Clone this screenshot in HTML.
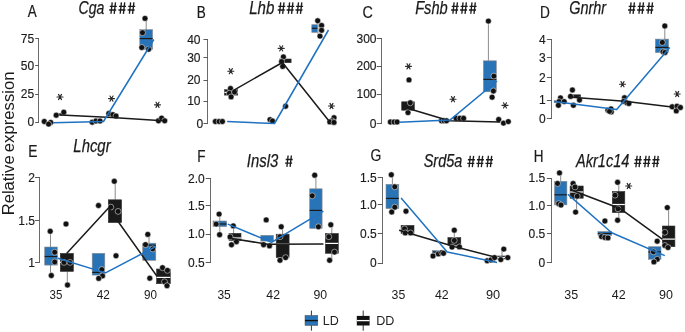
<!DOCTYPE html>
<html><head><meta charset="utf-8"><style>
html,body{margin:0;padding:0;background:#fff;}
svg{display:block;will-change:transform;}
text{font-family:"Liberation Sans",sans-serif;}
</style></head><body>
<svg width="685" height="332" viewBox="0 0 685 332">
<rect width="685" height="332" fill="#fff"/>
<g font-family="Liberation Sans, sans-serif">
<text transform="translate(13.8,215.27) rotate(-90)" font-size="16.5" textLength="59.88" lengthAdjust="spacingAndGlyphs" fill="#1a1a1a">Relative</text>
<text transform="translate(13.8,152.21) rotate(-90)" font-size="16.5" textLength="80.81" lengthAdjust="spacingAndGlyphs" fill="#1a1a1a">expression</text>
<text x="27.77" y="17.2" font-size="15.9" text-anchor="start" stroke="#1a1a1a" stroke-width="0.2" textLength="8.96" lengthAdjust="spacingAndGlyphs" fill="#1a1a1a" >A</text>
<text x="196.78" y="17.5" font-size="15.9" text-anchor="start" stroke="#1a1a1a" stroke-width="0.2" textLength="9.02" lengthAdjust="spacingAndGlyphs" fill="#1a1a1a" >B</text>
<text x="362.38" y="17.5" font-size="15.9" text-anchor="start" stroke="#1a1a1a" stroke-width="0.2" textLength="10.39" lengthAdjust="spacingAndGlyphs" fill="#1a1a1a" >C</text>
<text x="539.97" y="17.5" font-size="15.9" text-anchor="start" stroke="#1a1a1a" stroke-width="0.2" textLength="9.87" lengthAdjust="spacingAndGlyphs" fill="#1a1a1a" >D</text>
<text x="28.26" y="157.10000000000002" font-size="15.9" text-anchor="start" stroke="#1a1a1a" stroke-width="0.2" textLength="9.22" lengthAdjust="spacingAndGlyphs" fill="#1a1a1a" >E</text>
<text x="197.18" y="161.70000000000002" font-size="15.9" text-anchor="start" stroke="#1a1a1a" stroke-width="0.2" textLength="8.27" lengthAdjust="spacingAndGlyphs" fill="#1a1a1a" >F</text>
<text x="370.4" y="161.4" font-size="15.9" text-anchor="start" stroke="#1a1a1a" stroke-width="0.2" textLength="10.85" lengthAdjust="spacingAndGlyphs" fill="#1a1a1a" >G</text>
<text x="533.79" y="161.70000000000002" font-size="15.9" text-anchor="start" stroke="#1a1a1a" stroke-width="0.2" textLength="9.72" lengthAdjust="spacingAndGlyphs" fill="#1a1a1a" >H</text>
<text x="78.52" y="13.8" font-size="18.7" text-anchor="start" font-style="italic" stroke="#1a1a1a" stroke-width="0.25" textLength="25.86" lengthAdjust="spacingAndGlyphs" fill="#1a1a1a" >Cga</text>
<path d="M112.20,2.40L111.00,13.80M115.50,2.40L114.20,13.80M109.80,6.39H116.80M109.20,10.04H116.20M121.40,2.40L120.20,13.80M124.70,2.40L123.40,13.80M119.00,6.39H126.00M118.40,10.04H125.40M130.60,2.40L129.40,13.80M133.90,2.40L132.60,13.80M128.20,6.39H135.20M127.60,10.04H134.60" stroke="#1c1c1c" stroke-width="1.35" fill="none"/>
<text x="249.25" y="13.8" font-size="18.7" text-anchor="start" font-style="italic" stroke="#1a1a1a" stroke-width="0.25" textLength="25.12" lengthAdjust="spacingAndGlyphs" fill="#1a1a1a" >Lhb</text>
<path d="M280.70,2.40L279.50,13.80M284.00,2.40L282.70,13.80M278.30,6.39H285.30M277.70,10.04H284.70M289.60,2.40L288.40,13.80M292.90,2.40L291.60,13.80M287.20,6.39H294.20M286.60,10.04H293.60M298.50,2.40L297.30,13.80M301.80,2.40L300.50,13.80M296.10,6.39H303.10M295.50,10.04H302.50" stroke="#1c1c1c" stroke-width="1.35" fill="none"/>
<text x="415.16" y="13.8" font-size="18.7" text-anchor="start" font-style="italic" stroke="#1a1a1a" stroke-width="0.25" textLength="32.59" lengthAdjust="spacingAndGlyphs" fill="#1a1a1a" >Fshb</text>
<path d="M454.10,2.40L452.90,13.80M457.40,2.40L456.10,13.80M451.70,6.39H458.70M451.10,10.04H458.10M463.05,2.40L461.85,13.80M466.35,2.40L465.05,13.80M460.65,6.39H467.65M460.05,10.04H467.05M472.00,2.40L470.80,13.80M475.30,2.40L474.00,13.80M469.60,6.39H476.60M469.00,10.04H476.00" stroke="#1c1c1c" stroke-width="1.35" fill="none"/>
<text x="569.18" y="13.8" font-size="18.7" text-anchor="start" font-style="italic" stroke="#1a1a1a" stroke-width="0.25" textLength="36.93" lengthAdjust="spacingAndGlyphs" fill="#1a1a1a" >Gnrhr</text>
<path d="M631.10,2.40L629.90,13.80M634.40,2.40L633.10,13.80M628.70,6.39H635.70M628.10,10.04H635.10M640.15,2.40L638.95,13.80M643.45,2.40L642.15,13.80M637.75,6.39H644.75M637.15,10.04H644.15M649.20,2.40L648.00,13.80M652.50,2.40L651.20,13.80M646.80,6.39H653.80M646.20,10.04H653.20" stroke="#1c1c1c" stroke-width="1.35" fill="none"/>
<text x="73.35" y="151.6" font-size="18.7" text-anchor="start" font-style="italic" stroke="#1a1a1a" stroke-width="0.25" textLength="37.25" lengthAdjust="spacingAndGlyphs" fill="#1a1a1a" >Lhcgr</text>
<text x="246.8" y="166.9" font-size="18.7" text-anchor="start" font-style="italic" stroke="#1a1a1a" stroke-width="0.25" textLength="31.44" lengthAdjust="spacingAndGlyphs" fill="#1a1a1a" >Insl3</text>
<path d="M288.10,155.50L286.90,166.90M291.40,155.50L290.10,166.90M285.70,159.49H292.70M285.10,163.14H292.10" stroke="#1c1c1c" stroke-width="1.35" fill="none"/>
<text x="423.7" y="167.2" font-size="18.7" text-anchor="start" font-style="italic" stroke="#1a1a1a" stroke-width="0.25" textLength="38.58" lengthAdjust="spacingAndGlyphs" fill="#1a1a1a" >Srd5a</text>
<path d="M470.30,155.80L469.10,167.20M473.60,155.80L472.30,167.20M467.90,159.79H474.90M467.30,163.44H474.30M479.35,155.80L478.15,167.20M482.65,155.80L481.35,167.20M476.95,159.79H483.95M476.35,163.44H483.35M488.40,155.80L487.20,167.20M491.70,155.80L490.40,167.20M486.00,159.79H493.00M485.40,163.44H492.40" stroke="#1c1c1c" stroke-width="1.35" fill="none"/>
<text x="575.99" y="167.2" font-size="18.7" text-anchor="start" font-style="italic" stroke="#1a1a1a" stroke-width="0.25" textLength="53.47" lengthAdjust="spacingAndGlyphs" fill="#1a1a1a" >Akr1c14</text>
<path d="M637.10,155.80L635.90,167.20M640.40,155.80L639.10,167.20M634.70,159.79H641.70M634.10,163.44H641.10M646.00,155.80L644.80,167.20M649.30,155.80L648.00,167.20M643.60,159.79H650.60M643.00,163.44H650.00M654.90,155.80L653.70,167.20M658.20,155.80L656.90,167.20M652.50,159.79H659.50M651.90,163.44H658.90" stroke="#1c1c1c" stroke-width="1.35" fill="none"/>
<text x="49.5" y="299.2" font-size="13.5" text-anchor="start" textLength="12.8" lengthAdjust="spacingAndGlyphs" fill="#1a1a1a" >35</text>
<text x="96.7" y="299.2" font-size="13.5" text-anchor="start" textLength="13.1" lengthAdjust="spacingAndGlyphs" fill="#1a1a1a" >42</text>
<text x="144" y="299.2" font-size="13.5" text-anchor="start" textLength="13" lengthAdjust="spacingAndGlyphs" fill="#1a1a1a" >90</text>
<text x="217.4" y="299.2" font-size="13.5" text-anchor="start" textLength="13.4" lengthAdjust="spacingAndGlyphs" fill="#1a1a1a" >35</text>
<text x="266.3" y="299.2" font-size="13.5" text-anchor="start" textLength="13.7" lengthAdjust="spacingAndGlyphs" fill="#1a1a1a" >42</text>
<text x="313.4" y="299.2" font-size="13.5" text-anchor="start" textLength="13.7" lengthAdjust="spacingAndGlyphs" fill="#1a1a1a" >90</text>
<text x="391.6" y="299.2" font-size="13.5" text-anchor="start" textLength="13.7" lengthAdjust="spacingAndGlyphs" fill="#1a1a1a" >35</text>
<text x="435" y="299.2" font-size="13.5" text-anchor="start" textLength="13.7" lengthAdjust="spacingAndGlyphs" fill="#1a1a1a" >42</text>
<text x="485.9" y="299.2" font-size="13.5" text-anchor="start" textLength="14.2" lengthAdjust="spacingAndGlyphs" fill="#1a1a1a" >90</text>
<text x="564.3" y="299.2" font-size="13.5" text-anchor="start" textLength="13.9" lengthAdjust="spacingAndGlyphs" fill="#1a1a1a" >35</text>
<text x="611.7" y="299.2" font-size="13.5" text-anchor="start" textLength="13.9" lengthAdjust="spacingAndGlyphs" fill="#1a1a1a" >42</text>
<text x="659" y="299.2" font-size="13.5" text-anchor="start" textLength="13.9" lengthAdjust="spacingAndGlyphs" fill="#1a1a1a" >90</text>
<line x1="311.4" y1="310.6" x2="311.4" y2="330.7" stroke="#333" stroke-width="1"/>
<rect x="305" y="315.4" width="12.8" height="10.1" fill="#2974b7" stroke="#555" stroke-width="0.5"/>
<line x1="305" y1="320.6" x2="317.8" y2="320.6" stroke="#111" stroke-width="1.4"/>
<text x="322.86" y="325.3" font-size="13.5" text-anchor="start" textLength="16.04" lengthAdjust="spacingAndGlyphs" fill="#222" >LD</text>
<line x1="363.2" y1="310.6" x2="363.2" y2="330.7" stroke="#333" stroke-width="1"/>
<rect x="356.8" y="315.9" width="12.8" height="9.6" fill="#111"/>
<line x1="356.8" y1="320.6" x2="369.6" y2="320.6" stroke="#fff" stroke-width="1.3"/>
<text x="376.16" y="325.3" font-size="13.5" text-anchor="start" textLength="18.12" lengthAdjust="spacingAndGlyphs" fill="#222" >DD</text>
<path d="M38.5,38.0V123.0" stroke="#6a6a6a" stroke-width="1" fill="none"/>
<line x1="35.2" y1="38.5" x2="39.0" y2="38.5" stroke="#5a5a5a" stroke-width="1"/>
<text x="34.199999999999996" y="42.6" font-size="12" text-anchor="end" stroke="#1a1a1a" stroke-width="0.15" fill="#1a1a1a" >75</text>
<line x1="35.2" y1="65.5" x2="39.0" y2="65.5" stroke="#5a5a5a" stroke-width="1"/>
<text x="34.199999999999996" y="69.7" font-size="12" text-anchor="end" stroke="#1a1a1a" stroke-width="0.15" fill="#1a1a1a" >50</text>
<line x1="35.2" y1="94.5" x2="39.0" y2="94.5" stroke="#5a5a5a" stroke-width="1"/>
<text x="34.199999999999996" y="98.4" font-size="12" text-anchor="end" stroke="#1a1a1a" stroke-width="0.15" fill="#1a1a1a" >25</text>
<line x1="35.2" y1="122.5" x2="39.0" y2="122.5" stroke="#5a5a5a" stroke-width="1"/>
<text x="34.199999999999996" y="126.3" font-size="12" text-anchor="end" stroke="#1a1a1a" stroke-width="0.15" fill="#1a1a1a" >0</text>
<line x1="146.2" y1="18.4" x2="146.2" y2="30" stroke="#8c8c8c" stroke-width="1"/>
<rect x="139.8" y="29.6" width="12.799999999999983" height="19.799999999999997" fill="#2974b7" stroke="#8a8a8a" stroke-width="0.6"/>
<line x1="139.8" y1="38.6" x2="152.6" y2="38.6" stroke="#1a1a1a" stroke-width="1.2"/>
<circle cx="44.3" cy="121.5" r="2.95" fill="#111" stroke="#fff" stroke-width="0.5"/>
<circle cx="50.7" cy="122.4" r="2.95" fill="#111" stroke="#fff" stroke-width="0.5"/>
<circle cx="48.6" cy="124.1" r="2.95" fill="#111" stroke="#fff" stroke-width="0.5"/>
<rect x="58.3" y="113.6" width="3.5" height="2.0" fill="#1a1a1a" stroke="#333" stroke-width="0.6"/>
<circle cx="56.2" cy="115.2" r="2.95" fill="#111" stroke="#fff" stroke-width="0.5"/>
<circle cx="63.8" cy="112.2" r="2.95" fill="#111" stroke="#fff" stroke-width="0.5"/>
<circle cx="92.2" cy="122.2" r="2.95" fill="#111" stroke="#fff" stroke-width="0.5"/>
<circle cx="95.9" cy="121" r="2.95" fill="#111" stroke="#fff" stroke-width="0.5"/>
<circle cx="100" cy="121" r="2.95" fill="#111" stroke="#fff" stroke-width="0.5"/>
<circle cx="108.8" cy="113.5" r="2.95" fill="#111" stroke="#fff" stroke-width="0.5"/>
<circle cx="112.9" cy="114.6" r="2.95" fill="#111" stroke="#fff" stroke-width="0.5"/>
<circle cx="116" cy="116" r="2.95" fill="#111" stroke="#fff" stroke-width="0.5"/>
<circle cx="145" cy="18.4" r="2.95" fill="#111" stroke="#fff" stroke-width="0.5"/>
<circle cx="142.5" cy="32.7" r="2.95" fill="#111" stroke="#fff" stroke-width="0.5"/>
<circle cx="141.8" cy="47.5" r="2.95" fill="#111" stroke="#fff" stroke-width="0.5"/>
<circle cx="148.6" cy="49.2" r="2.95" fill="#111" stroke="#fff" stroke-width="0.5"/>
<circle cx="158.5" cy="120.8" r="2.95" fill="#111" stroke="#fff" stroke-width="0.5"/>
<circle cx="161.6" cy="118.1" r="2.95" fill="#111" stroke="#fff" stroke-width="0.5"/>
<circle cx="164.7" cy="120.8" r="2.95" fill="#111" stroke="#fff" stroke-width="0.5"/>
<path d="M57.00,97.00L63.00,97.00M58.50,94.40L61.50,99.60M61.50,94.40L58.50,99.60" stroke="#2a2a2a" stroke-width="1.15" stroke-linecap="round" fill="none"/>
<path d="M108.50,98.60L114.50,98.60M110.00,96.00L113.00,101.20M113.00,96.00L110.00,101.20" stroke="#2a2a2a" stroke-width="1.15" stroke-linecap="round" fill="none"/>
<path d="M154.50,104.80L160.50,104.80M156.00,102.20L159.00,107.40M159.00,102.20L156.00,107.40" stroke="#2a2a2a" stroke-width="1.15" stroke-linecap="round" fill="none"/>
<path d="M207.5,39.0V124.0" stroke="#6a6a6a" stroke-width="1" fill="none"/>
<line x1="203.5" y1="39.5" x2="208.0" y2="39.5" stroke="#5a5a5a" stroke-width="1"/>
<text x="200.5" y="43.5" font-size="12" text-anchor="end" stroke="#1a1a1a" stroke-width="0.15" fill="#1a1a1a" >40</text>
<line x1="203.5" y1="57.5" x2="208.0" y2="57.5" stroke="#5a5a5a" stroke-width="1"/>
<text x="200.5" y="61.7" font-size="12" text-anchor="end" stroke="#1a1a1a" stroke-width="0.15" fill="#1a1a1a" >30</text>
<line x1="203.5" y1="80.5" x2="208.0" y2="80.5" stroke="#5a5a5a" stroke-width="1"/>
<text x="200.5" y="84.2" font-size="12" text-anchor="end" stroke="#1a1a1a" stroke-width="0.15" fill="#1a1a1a" >20</text>
<line x1="203.5" y1="101.5" x2="208.0" y2="101.5" stroke="#5a5a5a" stroke-width="1"/>
<text x="200.5" y="105.2" font-size="12" text-anchor="end" stroke="#1a1a1a" stroke-width="0.15" fill="#1a1a1a" >10</text>
<line x1="203.5" y1="123.5" x2="208.0" y2="123.5" stroke="#5a5a5a" stroke-width="1"/>
<text x="203.3" y="128.1" font-size="12" text-anchor="end" stroke="#1a1a1a" stroke-width="0.15" fill="#1a1a1a" >0</text>
<rect x="224.5" y="89.7" width="13.199999999999989" height="5.3999999999999915" fill="#1a1a1a" stroke="#333" stroke-width="0.6"/>
<line x1="224.5" y1="92.4" x2="237.7" y2="92.4" stroke="#ffffff" stroke-width="1.2"/>
<rect x="279.5" y="59" width="11.600000000000023" height="3.700000000000003" fill="#1a1a1a" stroke="#333" stroke-width="0.6"/>
<rect x="311.8" y="24.7" width="5.800000000000011" height="7.699999999999999" fill="#2974b7" stroke="#8a8a8a" stroke-width="0.6"/>
<line x1="311.8" y1="28.3" x2="317.6" y2="28.3" stroke="#1a1a1a" stroke-width="1.2"/>
<circle cx="215.4" cy="121.5" r="2.95" fill="#111" stroke="#fff" stroke-width="0.5"/>
<circle cx="219.1" cy="121.5" r="2.95" fill="#111" stroke="#fff" stroke-width="0.5"/>
<circle cx="222.4" cy="121.5" r="2.95" fill="#111" stroke="#fff" stroke-width="0.5"/>
<circle cx="230.5" cy="88.5" r="2.95" fill="#111" stroke="#fff" stroke-width="0.5"/>
<circle cx="229.3" cy="93.3" r="2.95" fill="#111" stroke="#fff" stroke-width="0.5"/>
<circle cx="231.1" cy="96.9" r="2.95" fill="#111" stroke="#fff" stroke-width="0.5"/>
<circle cx="234.5" cy="92" r="2.95" fill="#111" stroke="#fff" stroke-width="0.5"/>
<circle cx="270" cy="119.6" r="2.95" fill="#111" stroke="#fff" stroke-width="0.5"/>
<circle cx="272.5" cy="121" r="2.95" fill="#111" stroke="#fff" stroke-width="0.5"/>
<circle cx="285.6" cy="106.2" r="2.95" fill="#111" stroke="#fff" stroke-width="0.5"/>
<circle cx="283.4" cy="56.9" r="2.95" fill="#111" stroke="#fff" stroke-width="0.5"/>
<circle cx="281.6" cy="61.6" r="2.95" fill="#111" stroke="#fff" stroke-width="0.5"/>
<circle cx="282.7" cy="66.4" r="2.95" fill="#111" stroke="#fff" stroke-width="0.5"/>
<line x1="318" y1="21" x2="318" y2="37" stroke="#8c8c8c" stroke-width="1"/>
<circle cx="317.7" cy="20.8" r="2.95" fill="#111" stroke="#fff" stroke-width="0.5"/>
<circle cx="321.6" cy="25.5" r="2.95" fill="#111" stroke="#fff" stroke-width="0.5"/>
<circle cx="321.6" cy="30.3" r="2.95" fill="#111" stroke="#fff" stroke-width="0.5"/>
<circle cx="320" cy="36.1" r="2.95" fill="#111" stroke="#fff" stroke-width="0.5"/>
<circle cx="334" cy="117.7" r="2.95" fill="#111" stroke="#fff" stroke-width="0.5"/>
<circle cx="332" cy="120.8" r="2.95" fill="#111" stroke="#fff" stroke-width="0.5"/>
<circle cx="329.8" cy="121.9" r="2.95" fill="#111" stroke="#fff" stroke-width="0.5"/>
<circle cx="334" cy="122.4" r="2.95" fill="#111" stroke="#fff" stroke-width="0.5"/>
<path d="M227.80,71.20L233.80,71.20M229.30,68.60L232.30,73.80M232.30,68.60L229.30,73.80" stroke="#2a2a2a" stroke-width="1.15" stroke-linecap="round" fill="none"/>
<path d="M278.20,48.40L284.20,48.40M279.70,45.80L282.70,51.00M282.70,45.80L279.70,51.00" stroke="#2a2a2a" stroke-width="1.15" stroke-linecap="round" fill="none"/>
<path d="M328.50,106.00L334.50,106.00M330.00,103.40L333.00,108.60M333.00,103.40L330.00,108.60" stroke="#2a2a2a" stroke-width="1.15" stroke-linecap="round" fill="none"/>
<path d="M381.5,38.0V124.0" stroke="#6a6a6a" stroke-width="1" fill="none"/>
<line x1="376.7" y1="38.5" x2="382.0" y2="38.5" stroke="#5a5a5a" stroke-width="1"/>
<text x="376.5" y="42.900000000000006" font-size="12" text-anchor="end" stroke="#1a1a1a" stroke-width="0.15" fill="#1a1a1a" >300</text>
<line x1="376.7" y1="66.5" x2="382.0" y2="66.5" stroke="#5a5a5a" stroke-width="1"/>
<text x="376.5" y="70.2" font-size="12" text-anchor="end" stroke="#1a1a1a" stroke-width="0.15" fill="#1a1a1a" >200</text>
<line x1="376.7" y1="94.5" x2="382.0" y2="94.5" stroke="#5a5a5a" stroke-width="1"/>
<text x="376.5" y="98.4" font-size="12" text-anchor="end" stroke="#1a1a1a" stroke-width="0.15" fill="#1a1a1a" >100</text>
<line x1="376.7" y1="123.5" x2="382.0" y2="123.5" stroke="#5a5a5a" stroke-width="1"/>
<text x="376.5" y="127.5" font-size="12" text-anchor="end" stroke="#1a1a1a" stroke-width="0.15" fill="#1a1a1a" >0</text>
<rect x="401.7" y="101.8" width="12.699999999999989" height="8.400000000000006" fill="#1a1a1a" stroke="#333" stroke-width="0.6"/>
<line x1="488.4" y1="21.1" x2="488.4" y2="60.8" stroke="#8c8c8c" stroke-width="1"/>
<rect x="483.4" y="60.8" width="12.900000000000034" height="31.0" fill="#2974b7" stroke="#8a8a8a" stroke-width="0.6"/>
<line x1="483.4" y1="79.4" x2="496.3" y2="79.4" stroke="#1a1a1a" stroke-width="1.2"/>
<circle cx="390.4" cy="122" r="2.95" fill="#111" stroke="#fff" stroke-width="0.5"/>
<circle cx="394.1" cy="122" r="2.95" fill="#111" stroke="#fff" stroke-width="0.5"/>
<circle cx="397.1" cy="122" r="2.95" fill="#111" stroke="#fff" stroke-width="0.5"/>
<circle cx="409" cy="79.9" r="2.95" fill="#111" stroke="#fff" stroke-width="0.5"/>
<circle cx="410.3" cy="102.8" r="2.95" fill="#111" stroke="#fff" stroke-width="0.5"/>
<circle cx="408" cy="112.6" r="2.95" fill="#111" stroke="#fff" stroke-width="0.5"/>
<circle cx="441.5" cy="120.8" r="2.95" fill="#111" stroke="#fff" stroke-width="0.5"/>
<circle cx="444" cy="120.8" r="2.95" fill="#111" stroke="#fff" stroke-width="0.5"/>
<circle cx="446.5" cy="120.8" r="2.95" fill="#111" stroke="#fff" stroke-width="0.5"/>
<circle cx="456.1" cy="118.3" r="2.95" fill="#111" stroke="#fff" stroke-width="0.5"/>
<circle cx="459.9" cy="118.3" r="2.95" fill="#111" stroke="#fff" stroke-width="0.5"/>
<circle cx="463.6" cy="118.3" r="2.95" fill="#111" stroke="#fff" stroke-width="0.5"/>
<circle cx="488.4" cy="21.1" r="2.95" fill="#111" stroke="#fff" stroke-width="0.5"/>
<circle cx="493.9" cy="76.1" r="2.95" fill="#111" stroke="#fff" stroke-width="0.5"/>
<circle cx="493.4" cy="91" r="2.95" fill="#111" stroke="#fff" stroke-width="0.5"/>
<circle cx="492.1" cy="97.2" r="2.95" fill="#111" stroke="#fff" stroke-width="0.5"/>
<circle cx="498.7" cy="119.5" r="2.95" fill="#111" stroke="#fff" stroke-width="0.5"/>
<circle cx="503.5" cy="123.1" r="2.95" fill="#111" stroke="#fff" stroke-width="0.5"/>
<circle cx="508.3" cy="121.6" r="2.95" fill="#111" stroke="#fff" stroke-width="0.5"/>
<path d="M405.50,66.30L411.50,66.30M407.00,63.70L410.00,68.90M410.00,63.70L407.00,68.90" stroke="#2a2a2a" stroke-width="1.15" stroke-linecap="round" fill="none"/>
<path d="M450.00,99.20L456.00,99.20M451.50,96.60L454.50,101.80M454.50,96.60L451.50,101.80" stroke="#2a2a2a" stroke-width="1.15" stroke-linecap="round" fill="none"/>
<path d="M502.00,105.40L508.00,105.40M503.50,102.80L506.50,108.00M506.50,102.80L503.50,108.00" stroke="#2a2a2a" stroke-width="1.15" stroke-linecap="round" fill="none"/>
<path d="M551.5,39.0V119.0" stroke="#6a6a6a" stroke-width="1" fill="none"/>
<line x1="546.9" y1="39.5" x2="552.0" y2="39.5" stroke="#5a5a5a" stroke-width="1"/>
<text x="545.6999999999999" y="43.5" font-size="12" text-anchor="end" stroke="#1a1a1a" stroke-width="0.15" fill="#1a1a1a" >4</text>
<line x1="546.9" y1="57.5" x2="552.0" y2="57.5" stroke="#5a5a5a" stroke-width="1"/>
<text x="545.6999999999999" y="61.7" font-size="12" text-anchor="end" stroke="#1a1a1a" stroke-width="0.15" fill="#1a1a1a" >3</text>
<line x1="546.9" y1="77.5" x2="552.0" y2="77.5" stroke="#5a5a5a" stroke-width="1"/>
<text x="545.6999999999999" y="81.7" font-size="12" text-anchor="end" stroke="#1a1a1a" stroke-width="0.15" fill="#1a1a1a" >2</text>
<line x1="546.9" y1="100.5" x2="552.0" y2="100.5" stroke="#5a5a5a" stroke-width="1"/>
<text x="545.6999999999999" y="104.2" font-size="12" text-anchor="end" stroke="#1a1a1a" stroke-width="0.15" fill="#1a1a1a" >1</text>
<line x1="546.9" y1="118.5" x2="552.0" y2="118.5" stroke="#5a5a5a" stroke-width="1"/>
<text x="545.6999999999999" y="122.7" font-size="12" text-anchor="end" stroke="#1a1a1a" stroke-width="0.15" fill="#1a1a1a" >0</text>
<rect x="554.2" y="100.6" width="6.2999999999999545" height="2.1000000000000085" fill="#2974b7" stroke="#8a8a8a" stroke-width="0.6"/>
<rect x="568.5" y="94.8" width="12.100000000000023" height="2.6000000000000085" fill="#1a1a1a" stroke="#333" stroke-width="0.6"/>
<line x1="664.8" y1="26" x2="664.8" y2="39.1" stroke="#8c8c8c" stroke-width="1"/>
<rect x="655.4" y="39.1" width="13.200000000000045" height="13.5" fill="#2974b7" stroke="#8a8a8a" stroke-width="0.6"/>
<line x1="655.4" y1="47.4" x2="668.6" y2="47.4" stroke="#1a1a1a" stroke-width="1.2"/>
<rect x="673" y="106" width="9" height="3" fill="#1a1a1a" stroke="#333" stroke-width="0.6"/>
<circle cx="560.5" cy="97.9" r="2.95" fill="#111" stroke="#fff" stroke-width="0.5"/>
<circle cx="559" cy="101.6" r="2.95" fill="#111" stroke="#fff" stroke-width="0.5"/>
<circle cx="564.2" cy="101.6" r="2.95" fill="#111" stroke="#fff" stroke-width="0.5"/>
<circle cx="558.4" cy="105.3" r="2.95" fill="#111" stroke="#fff" stroke-width="0.5"/>
<circle cx="572.4" cy="90" r="2.95" fill="#111" stroke="#fff" stroke-width="0.5"/>
<circle cx="570.6" cy="96.4" r="2.95" fill="#111" stroke="#fff" stroke-width="0.5"/>
<circle cx="579.5" cy="100" r="2.95" fill="#111" stroke="#fff" stroke-width="0.5"/>
<circle cx="573.4" cy="105.3" r="2.95" fill="#111" stroke="#fff" stroke-width="0.5"/>
<circle cx="607.9" cy="110.2" r="2.95" fill="#111" stroke="#fff" stroke-width="0.5"/>
<circle cx="611" cy="108.9" r="2.95" fill="#111" stroke="#fff" stroke-width="0.5"/>
<circle cx="611.3" cy="111.9" r="2.95" fill="#111" stroke="#fff" stroke-width="0.5"/>
<circle cx="609.5" cy="111.3" r="2.95" fill="#111" stroke="#fff" stroke-width="0.5"/>
<circle cx="624.5" cy="97.8" r="2.95" fill="#111" stroke="#fff" stroke-width="0.5"/>
<circle cx="623.7" cy="101.4" r="2.95" fill="#111" stroke="#fff" stroke-width="0.5"/>
<circle cx="626.8" cy="102.8" r="2.95" fill="#111" stroke="#fff" stroke-width="0.5"/>
<circle cx="628.9" cy="103.5" r="2.95" fill="#111" stroke="#fff" stroke-width="0.5"/>
<circle cx="664.8" cy="26" r="2.95" fill="#111" stroke="#fff" stroke-width="0.5"/>
<circle cx="662.3" cy="42.4" r="2.95" fill="#111" stroke="#fff" stroke-width="0.5"/>
<circle cx="663" cy="51.8" r="2.95" fill="#111" stroke="#fff" stroke-width="0.5"/>
<circle cx="665" cy="52.5" r="2.95" fill="#111" stroke="#fff" stroke-width="0.5"/>
<circle cx="672.2" cy="106.8" r="2.95" fill="#111" stroke="#fff" stroke-width="0.5"/>
<circle cx="677" cy="106.2" r="2.95" fill="#111" stroke="#fff" stroke-width="0.5"/>
<circle cx="676.3" cy="110.9" r="2.95" fill="#111" stroke="#fff" stroke-width="0.5"/>
<circle cx="680.4" cy="107.5" r="2.95" fill="#111" stroke="#fff" stroke-width="0.5"/>
<path d="M619.50,84.20L625.50,84.20M621.00,81.60L624.00,86.80M624.00,81.60L621.00,86.80" stroke="#2a2a2a" stroke-width="1.15" stroke-linecap="round" fill="none"/>
<path d="M674.20,94.00L680.20,94.00M675.70,91.40L678.70,96.60M678.70,91.40L675.70,96.60" stroke="#2a2a2a" stroke-width="1.15" stroke-linecap="round" fill="none"/>
<path d="M39.5,177.0V263.0" stroke="#6a6a6a" stroke-width="1" fill="none"/>
<line x1="35.0" y1="177.5" x2="40.0" y2="177.5" stroke="#5a5a5a" stroke-width="1"/>
<text x="34.9" y="181.7" font-size="12" text-anchor="end" stroke="#1a1a1a" stroke-width="0.15" fill="#1a1a1a" >2</text>
<line x1="35.0" y1="220.5" x2="40.0" y2="220.5" stroke="#5a5a5a" stroke-width="1"/>
<text x="34.9" y="225.0" font-size="12" text-anchor="end" stroke="#1a1a1a" stroke-width="0.15" fill="#1a1a1a" >1.5</text>
<line x1="35.0" y1="262.5" x2="40.0" y2="262.5" stroke="#5a5a5a" stroke-width="1"/>
<text x="34.9" y="266.59999999999997" font-size="12" text-anchor="end" stroke="#1a1a1a" stroke-width="0.15" fill="#1a1a1a" >1</text>
<line x1="50.5" y1="231.4" x2="50.5" y2="275.9" stroke="#8c8c8c" stroke-width="1"/>
<rect x="44.7" y="247" width="12.599999999999994" height="18.100000000000023" fill="#2974b7" stroke="#8a8a8a" stroke-width="0.6"/>
<line x1="44.7" y1="256.5" x2="57.3" y2="256.5" stroke="#1a1a1a" stroke-width="1.2"/>
<line x1="67.3" y1="271.6" x2="67.3" y2="284.7" stroke="#8c8c8c" stroke-width="1"/>
<rect x="60.3" y="253.4" width="13.100000000000009" height="17.99999999999997" fill="#1a1a1a" stroke="#333" stroke-width="0.6"/>
<line x1="60.3" y1="262.4" x2="73.4" y2="262.4" stroke="#ffffff" stroke-width="1.2"/>
<rect x="92.2" y="253.3" width="12.599999999999994" height="21.80000000000001" fill="#2974b7" stroke="#8a8a8a" stroke-width="0.6"/>
<line x1="92.2" y1="272.4" x2="104.8" y2="272.4" stroke="#1a1a1a" stroke-width="1.2"/>
<line x1="115.2" y1="181.3" x2="115.2" y2="199.8" stroke="#8c8c8c" stroke-width="1"/>
<rect x="108.3" y="199.8" width="13.299999999999997" height="22.799999999999983" fill="#1a1a1a" stroke="#333" stroke-width="0.6"/>
<line x1="149" y1="234.4" x2="149" y2="243.2" stroke="#8c8c8c" stroke-width="1"/>
<rect x="142.7" y="243.2" width="13.100000000000023" height="17.100000000000023" fill="#2974b7" stroke="#8a8a8a" stroke-width="0.6"/>
<line x1="142.7" y1="245.2" x2="155.8" y2="245.2" stroke="#1a1a1a" stroke-width="1.2"/>
<rect x="156.6" y="269" width="13.700000000000017" height="14.699999999999989" fill="#1a1a1a" stroke="#333" stroke-width="0.6"/>
<line x1="156.6" y1="277.4" x2="170.3" y2="277.4" stroke="#ffffff" stroke-width="1.2"/>
<circle cx="50.2" cy="231.3" r="2.95" fill="#111" stroke="#fff" stroke-width="0.5"/>
<circle cx="51.3" cy="275.5" r="2.95" fill="#111" stroke="#fff" stroke-width="0.5"/>
<circle cx="54.7" cy="252.2" r="2.95" fill="#111" stroke="#fff" stroke-width="0.5"/>
<circle cx="54.7" cy="262" r="2.95" fill="#111" stroke="#fff" stroke-width="0.5"/>
<circle cx="66" cy="224" r="2.95" fill="#111" stroke="#fff" stroke-width="0.5"/>
<circle cx="67.5" cy="285" r="2.95" fill="#111" stroke="#fff" stroke-width="0.5"/>
<circle cx="64" cy="262.4" r="2.95" fill="#111" stroke="#fff" stroke-width="0.5"/>
<circle cx="70" cy="262.4" r="2.95" fill="#111" stroke="#fff" stroke-width="0.5"/>
<circle cx="101.8" cy="269.6" r="2.95" fill="#111" stroke="#fff" stroke-width="0.5"/>
<circle cx="102.5" cy="275.9" r="2.95" fill="#111" stroke="#fff" stroke-width="0.5"/>
<circle cx="98.7" cy="278.4" r="2.95" fill="#111" stroke="#fff" stroke-width="0.5"/>
<circle cx="114.3" cy="181.3" r="2.95" fill="#111" stroke="#fff" stroke-width="0.5"/>
<circle cx="98.5" cy="205.5" r="2.95" fill="#111" stroke="#fff" stroke-width="0.5"/>
<circle cx="116" cy="255.8" r="2.95" fill="#111" stroke="#fff" stroke-width="0.5"/>
<circle cx="110.8" cy="207.1" r="2.95" fill="#111" stroke="#fff" stroke-width="0.5"/>
<circle cx="118.1" cy="211.4" r="2.95" fill="#111" stroke="#fff" stroke-width="0.5"/>
<circle cx="147.8" cy="234.4" r="2.95" fill="#111" stroke="#fff" stroke-width="0.5"/>
<circle cx="145.5" cy="244.6" r="2.95" fill="#111" stroke="#fff" stroke-width="0.5"/>
<circle cx="152.7" cy="248.9" r="2.95" fill="#111" stroke="#fff" stroke-width="0.5"/>
<circle cx="149.8" cy="278.2" r="2.95" fill="#111" stroke="#fff" stroke-width="0.5"/>
<circle cx="162.5" cy="267.7" r="2.95" fill="#111" stroke="#fff" stroke-width="0.5"/>
<circle cx="167.4" cy="270.4" r="2.95" fill="#111" stroke="#fff" stroke-width="0.5"/>
<circle cx="164.5" cy="281.8" r="2.95" fill="#111" stroke="#fff" stroke-width="0.5"/>
<circle cx="167" cy="285.7" r="2.95" fill="#111" stroke="#fff" stroke-width="0.5"/>
<path d="M210.5,178.0V263.0" stroke="#6a6a6a" stroke-width="1" fill="none"/>
<line x1="205.7" y1="178.5" x2="211.0" y2="178.5" stroke="#5a5a5a" stroke-width="1"/>
<text x="204.70000000000002" y="182.5" font-size="12" text-anchor="end" stroke="#1a1a1a" stroke-width="0.15" fill="#1a1a1a" >2.0</text>
<line x1="205.7" y1="205.5" x2="211.0" y2="205.5" stroke="#5a5a5a" stroke-width="1"/>
<text x="204.70000000000002" y="209.7" font-size="12" text-anchor="end" stroke="#1a1a1a" stroke-width="0.15" fill="#1a1a1a" >1.5</text>
<line x1="205.7" y1="234.5" x2="211.0" y2="234.5" stroke="#5a5a5a" stroke-width="1"/>
<text x="204.70000000000002" y="238.39999999999998" font-size="12" text-anchor="end" stroke="#1a1a1a" stroke-width="0.15" fill="#1a1a1a" >1.0</text>
<line x1="205.7" y1="262.5" x2="211.0" y2="262.5" stroke="#5a5a5a" stroke-width="1"/>
<text x="204.70000000000002" y="266.7" font-size="12" text-anchor="end" stroke="#1a1a1a" stroke-width="0.15" fill="#1a1a1a" >0.5</text>
<line x1="219.8" y1="214.1" x2="219.8" y2="234.7" stroke="#8c8c8c" stroke-width="1"/>
<rect x="213" y="221" width="13.599999999999994" height="5.599999999999994" fill="#2974b7" stroke="#8a8a8a" stroke-width="0.6"/>
<line x1="213" y1="224" x2="226.6" y2="224" stroke="#1a1a1a" stroke-width="1.2"/>
<line x1="233.6" y1="226" x2="233.6" y2="245.2" stroke="#8c8c8c" stroke-width="1"/>
<rect x="229" y="233.3" width="12" height="7.199999999999989" fill="#1a1a1a" stroke="#333" stroke-width="0.6"/>
<line x1="229" y1="238" x2="241" y2="238" stroke="#ffffff" stroke-width="1.2"/>
<rect x="260.8" y="235.3" width="12.699999999999989" height="5.799999999999983" fill="#2974b7" stroke="#8a8a8a" stroke-width="0.6"/>
<line x1="282.6" y1="226.8" x2="282.6" y2="260.3" stroke="#8c8c8c" stroke-width="1"/>
<rect x="276.2" y="234.2" width="12.900000000000034" height="23.400000000000034" fill="#1a1a1a" stroke="#333" stroke-width="0.6"/>
<line x1="276.2" y1="244" x2="289.1" y2="244" stroke="#ffffff" stroke-width="1.2"/>
<line x1="315.9" y1="175.2" x2="315.9" y2="188.8" stroke="#8c8c8c" stroke-width="1"/>
<rect x="309.7" y="188.8" width="12.400000000000034" height="39.69999999999999" fill="#2974b7" stroke="#8a8a8a" stroke-width="0.6"/>
<line x1="309.7" y1="210.4" x2="322.1" y2="210.4" stroke="#1a1a1a" stroke-width="1.2"/>
<line x1="331.8" y1="224.8" x2="331.8" y2="260.3" stroke="#8c8c8c" stroke-width="1"/>
<rect x="325.4" y="233.5" width="12.900000000000034" height="19.80000000000001" fill="#1a1a1a" stroke="#333" stroke-width="0.6"/>
<line x1="325.4" y1="243.4" x2="338.3" y2="243.4" stroke="#ffffff" stroke-width="1.2"/>
<circle cx="219.1" cy="214.1" r="2.95" fill="#111" stroke="#fff" stroke-width="0.5"/>
<circle cx="216.2" cy="224.1" r="2.95" fill="#111" stroke="#fff" stroke-width="0.5"/>
<circle cx="219.6" cy="234.7" r="2.95" fill="#111" stroke="#fff" stroke-width="0.5"/>
<circle cx="233.3" cy="225.9" r="2.95" fill="#111" stroke="#fff" stroke-width="0.5"/>
<circle cx="230.1" cy="236.9" r="2.95" fill="#111" stroke="#fff" stroke-width="0.5"/>
<circle cx="236.4" cy="241.7" r="2.95" fill="#111" stroke="#fff" stroke-width="0.5"/>
<circle cx="231.5" cy="244.8" r="2.95" fill="#111" stroke="#fff" stroke-width="0.5"/>
<circle cx="266.2" cy="219.9" r="2.95" fill="#111" stroke="#fff" stroke-width="0.5"/>
<circle cx="263.6" cy="244.7" r="2.95" fill="#111" stroke="#fff" stroke-width="0.5"/>
<circle cx="269.5" cy="245.9" r="2.95" fill="#111" stroke="#fff" stroke-width="0.5"/>
<circle cx="281.2" cy="226.8" r="2.95" fill="#111" stroke="#fff" stroke-width="0.5"/>
<circle cx="280" cy="236.7" r="2.95" fill="#111" stroke="#fff" stroke-width="0.5"/>
<circle cx="280" cy="260.3" r="2.95" fill="#111" stroke="#fff" stroke-width="0.5"/>
<circle cx="285.6" cy="257.6" r="2.95" fill="#111" stroke="#fff" stroke-width="0.5"/>
<circle cx="314.7" cy="175.2" r="2.95" fill="#111" stroke="#fff" stroke-width="0.5"/>
<circle cx="312.2" cy="195.8" r="2.95" fill="#111" stroke="#fff" stroke-width="0.5"/>
<circle cx="318.4" cy="226.8" r="2.95" fill="#111" stroke="#fff" stroke-width="0.5"/>
<circle cx="330.8" cy="224.8" r="2.95" fill="#111" stroke="#fff" stroke-width="0.5"/>
<circle cx="328.8" cy="236.7" r="2.95" fill="#111" stroke="#fff" stroke-width="0.5"/>
<circle cx="334.5" cy="252.1" r="2.95" fill="#111" stroke="#fff" stroke-width="0.5"/>
<circle cx="329.6" cy="260.3" r="2.95" fill="#111" stroke="#fff" stroke-width="0.5"/>
<path d="M382.5,177.0V264.0" stroke="#6a6a6a" stroke-width="1" fill="none"/>
<line x1="377.7" y1="177.5" x2="383.0" y2="177.5" stroke="#5a5a5a" stroke-width="1"/>
<text x="376.7" y="181.7" font-size="12" text-anchor="end" stroke="#1a1a1a" stroke-width="0.15" fill="#1a1a1a" >1.5</text>
<line x1="377.7" y1="204.5" x2="383.0" y2="204.5" stroke="#5a5a5a" stroke-width="1"/>
<text x="376.7" y="208.6" font-size="12" text-anchor="end" stroke="#1a1a1a" stroke-width="0.15" fill="#1a1a1a" >1.0</text>
<line x1="377.7" y1="233.5" x2="383.0" y2="233.5" stroke="#5a5a5a" stroke-width="1"/>
<text x="376.7" y="237.5" font-size="12" text-anchor="end" stroke="#1a1a1a" stroke-width="0.15" fill="#1a1a1a" >0.5</text>
<line x1="377.7" y1="263.5" x2="383.0" y2="263.5" stroke="#5a5a5a" stroke-width="1"/>
<text x="376.7" y="267.4" font-size="12" text-anchor="end" stroke="#1a1a1a" stroke-width="0.15" fill="#1a1a1a" >0</text>
<line x1="392.4" y1="174.7" x2="392.4" y2="184.3" stroke="#8c8c8c" stroke-width="1"/>
<rect x="386" y="184.3" width="12.800000000000011" height="24.299999999999983" fill="#2974b7" stroke="#8a8a8a" stroke-width="0.6"/>
<line x1="386" y1="198.4" x2="398.8" y2="198.4" stroke="#1a1a1a" stroke-width="1.2"/>
<rect x="401.1" y="225.4" width="12.899999999999977" height="8.199999999999989" fill="#1a1a1a" stroke="#333" stroke-width="0.6"/>
<rect x="432.6" y="250.5" width="9.899999999999977" height="3.0" fill="#2974b7" stroke="#8a8a8a" stroke-width="0.6"/>
<line x1="432.6" y1="252" x2="442.5" y2="252" stroke="#1a1a1a" stroke-width="1.2"/>
<line x1="454.3" y1="230.2" x2="454.3" y2="237.6" stroke="#8c8c8c" stroke-width="1"/>
<rect x="447.9" y="237.6" width="12.900000000000034" height="7.5" fill="#1a1a1a" stroke="#333" stroke-width="0.6"/>
<rect x="485" y="259" width="10" height="3" fill="#2974b7" stroke="#8a8a8a" stroke-width="0.6"/>
<line x1="485" y1="260.5" x2="495" y2="260.5" stroke="#1a1a1a" stroke-width="1.2"/>
<line x1="502" y1="249.1" x2="502" y2="256" stroke="#8c8c8c" stroke-width="1"/>
<rect x="496" y="256" width="12" height="3" fill="#1a1a1a" stroke="#333" stroke-width="0.6"/>
<line x1="496" y1="257.5" x2="508" y2="257.5" stroke="#ffffff" stroke-width="1.2"/>
<circle cx="391.3" cy="174.8" r="2.95" fill="#111" stroke="#fff" stroke-width="0.5"/>
<circle cx="394.8" cy="186.8" r="2.95" fill="#111" stroke="#fff" stroke-width="0.5"/>
<circle cx="394.8" cy="207.2" r="2.95" fill="#111" stroke="#fff" stroke-width="0.5"/>
<circle cx="391.7" cy="212" r="2.95" fill="#111" stroke="#fff" stroke-width="0.5"/>
<circle cx="406" cy="211.2" r="2.95" fill="#111" stroke="#fff" stroke-width="0.5"/>
<circle cx="404.5" cy="228.8" r="2.95" fill="#111" stroke="#fff" stroke-width="0.5"/>
<circle cx="405.2" cy="232.9" r="2.95" fill="#111" stroke="#fff" stroke-width="0.5"/>
<circle cx="410.6" cy="232.9" r="2.95" fill="#111" stroke="#fff" stroke-width="0.5"/>
<circle cx="433" cy="256" r="2.95" fill="#111" stroke="#fff" stroke-width="0.5"/>
<circle cx="438.4" cy="253.9" r="2.95" fill="#111" stroke="#fff" stroke-width="0.5"/>
<circle cx="441.8" cy="252.6" r="2.95" fill="#111" stroke="#fff" stroke-width="0.5"/>
<circle cx="443.5" cy="253.3" r="2.95" fill="#111" stroke="#fff" stroke-width="0.5"/>
<circle cx="454.3" cy="230.2" r="2.95" fill="#111" stroke="#fff" stroke-width="0.5"/>
<circle cx="454.3" cy="240.4" r="2.95" fill="#111" stroke="#fff" stroke-width="0.5"/>
<circle cx="452" cy="247.1" r="2.95" fill="#111" stroke="#fff" stroke-width="0.5"/>
<circle cx="459.4" cy="246.9" r="2.95" fill="#111" stroke="#fff" stroke-width="0.5"/>
<circle cx="487.2" cy="260.8" r="2.95" fill="#111" stroke="#fff" stroke-width="0.5"/>
<circle cx="490.9" cy="260" r="2.95" fill="#111" stroke="#fff" stroke-width="0.5"/>
<circle cx="494.6" cy="257.6" r="2.95" fill="#111" stroke="#fff" stroke-width="0.5"/>
<circle cx="503.8" cy="249.1" r="2.95" fill="#111" stroke="#fff" stroke-width="0.5"/>
<circle cx="500.8" cy="259.6" r="2.95" fill="#111" stroke="#fff" stroke-width="0.5"/>
<circle cx="507.8" cy="257.6" r="2.95" fill="#111" stroke="#fff" stroke-width="0.5"/>
<path d="M551.5,178.0V263.0" stroke="#6a6a6a" stroke-width="1" fill="none"/>
<line x1="546.9" y1="178.5" x2="552.0" y2="178.5" stroke="#5a5a5a" stroke-width="1"/>
<text x="545.1999999999999" y="182.39999999999998" font-size="12" text-anchor="end" stroke="#1a1a1a" stroke-width="0.15" fill="#1a1a1a" >1.5</text>
<line x1="546.9" y1="205.5" x2="552.0" y2="205.5" stroke="#5a5a5a" stroke-width="1"/>
<text x="545.1999999999999" y="209.5" font-size="12" text-anchor="end" stroke="#1a1a1a" stroke-width="0.15" fill="#1a1a1a" >1.0</text>
<line x1="546.9" y1="233.5" x2="552.0" y2="233.5" stroke="#5a5a5a" stroke-width="1"/>
<text x="545.1999999999999" y="238.0" font-size="12" text-anchor="end" stroke="#1a1a1a" stroke-width="0.15" fill="#1a1a1a" >0.5</text>
<line x1="546.9" y1="262.5" x2="552.0" y2="262.5" stroke="#5a5a5a" stroke-width="1"/>
<text x="545.1999999999999" y="266.8" font-size="12" text-anchor="end" stroke="#1a1a1a" stroke-width="0.15" fill="#1a1a1a" >0</text>
<line x1="560.7" y1="172.9" x2="560.7" y2="181.3" stroke="#8c8c8c" stroke-width="1"/>
<rect x="554.5" y="181.3" width="12.399999999999977" height="23.599999999999994" fill="#2974b7" stroke="#8a8a8a" stroke-width="0.6"/>
<line x1="554.5" y1="194.8" x2="566.9" y2="194.8" stroke="#1a1a1a" stroke-width="1.2"/>
<line x1="576.6" y1="186" x2="576.6" y2="212.1" stroke="#8c8c8c" stroke-width="1"/>
<rect x="570.1" y="186" width="13.100000000000023" height="12.199999999999989" fill="#1a1a1a" stroke="#333" stroke-width="0.6"/>
<line x1="570.1" y1="192" x2="583.2" y2="192" stroke="#ffffff" stroke-width="1.2"/>
<rect x="597.9" y="231.6" width="13.800000000000068" height="3.8000000000000114" fill="#2974b7" stroke="#8a8a8a" stroke-width="0.6"/>
<line x1="597.9" y1="233.5" x2="611.7" y2="233.5" stroke="#1a1a1a" stroke-width="1.2"/>
<line x1="618.8" y1="182.3" x2="618.8" y2="220.2" stroke="#8c8c8c" stroke-width="1"/>
<rect x="612.3" y="191.5" width="12.5" height="21.099999999999994" fill="#1a1a1a" stroke="#333" stroke-width="0.6"/>
<line x1="612.3" y1="204.5" x2="624.8" y2="204.5" stroke="#ffffff" stroke-width="1.2"/>
<rect x="648.4" y="246.7" width="12.600000000000023" height="12.600000000000023" fill="#2974b7" stroke="#8a8a8a" stroke-width="0.6"/>
<line x1="648.4" y1="252" x2="661" y2="252" stroke="#1a1a1a" stroke-width="1.2"/>
<line x1="668.6" y1="207.6" x2="668.6" y2="226" stroke="#8c8c8c" stroke-width="1"/>
<rect x="662.3" y="226" width="12.600000000000023" height="20.69999999999999" fill="#1a1a1a" stroke="#333" stroke-width="0.6"/>
<line x1="662.3" y1="239.1" x2="674.9" y2="239.1" stroke="#ffffff" stroke-width="1.2"/>
<circle cx="559.5" cy="172.9" r="2.95" fill="#111" stroke="#fff" stroke-width="0.5"/>
<circle cx="557.5" cy="183.5" r="2.95" fill="#111" stroke="#fff" stroke-width="0.5"/>
<circle cx="558.7" cy="203.7" r="2.95" fill="#111" stroke="#fff" stroke-width="0.5"/>
<circle cx="561" cy="205" r="2.95" fill="#111" stroke="#fff" stroke-width="0.5"/>
<circle cx="573.1" cy="183.5" r="2.95" fill="#111" stroke="#fff" stroke-width="0.5"/>
<circle cx="575" cy="187" r="2.95" fill="#111" stroke="#fff" stroke-width="0.5"/>
<circle cx="577.2" cy="196.2" r="2.95" fill="#111" stroke="#fff" stroke-width="0.5"/>
<circle cx="575.6" cy="212.1" r="2.95" fill="#111" stroke="#fff" stroke-width="0.5"/>
<circle cx="604.9" cy="221" r="2.95" fill="#111" stroke="#fff" stroke-width="0.5"/>
<circle cx="601.5" cy="236.6" r="2.95" fill="#111" stroke="#fff" stroke-width="0.5"/>
<circle cx="604.9" cy="237.5" r="2.95" fill="#111" stroke="#fff" stroke-width="0.5"/>
<circle cx="608" cy="237.9" r="2.95" fill="#111" stroke="#fff" stroke-width="0.5"/>
<circle cx="617.6" cy="182.3" r="2.95" fill="#111" stroke="#fff" stroke-width="0.5"/>
<circle cx="615" cy="195.2" r="2.95" fill="#111" stroke="#fff" stroke-width="0.5"/>
<circle cx="618" cy="208.8" r="2.95" fill="#111" stroke="#fff" stroke-width="0.5"/>
<circle cx="617.6" cy="220.2" r="2.95" fill="#111" stroke="#fff" stroke-width="0.5"/>
<circle cx="657.2" cy="241.2" r="2.95" fill="#111" stroke="#fff" stroke-width="0.5"/>
<circle cx="653.4" cy="251.8" r="2.95" fill="#111" stroke="#fff" stroke-width="0.5"/>
<circle cx="657.2" cy="259.3" r="2.95" fill="#111" stroke="#fff" stroke-width="0.5"/>
<circle cx="653.9" cy="261.9" r="2.95" fill="#111" stroke="#fff" stroke-width="0.5"/>
<circle cx="667.3" cy="207.6" r="2.95" fill="#111" stroke="#fff" stroke-width="0.5"/>
<circle cx="664.8" cy="232.3" r="2.95" fill="#111" stroke="#fff" stroke-width="0.5"/>
<circle cx="664.8" cy="245.5" r="2.95" fill="#111" stroke="#fff" stroke-width="0.5"/>
<circle cx="668" cy="247.5" r="2.95" fill="#111" stroke="#fff" stroke-width="0.5"/>
<path d="M625.70,186.00L631.70,186.00M627.20,183.40L630.20,188.60M630.20,183.40L627.20,188.60" stroke="#2a2a2a" stroke-width="1.15" stroke-linecap="round" fill="none"/>
<path d="M60.5,115 L112,117.5 L162.7,120.8" stroke="#1a1a1a" stroke-width="1.5" fill="none" stroke-linejoin="round"/>
<path d="M233.5,90.3 L282.4,62.5 L329,121" stroke="#1a1a1a" stroke-width="1.5" fill="none" stroke-linejoin="round"/>
<path d="M407.5,108.2 L449.3,120.7 L500,122" stroke="#1a1a1a" stroke-width="1.5" fill="none" stroke-linejoin="round"/>
<path d="M568.5,96.9 L624.5,101.2 L672,107" stroke="#1a1a1a" stroke-width="1.5" fill="none" stroke-linejoin="round"/>
<path d="M66.6,253.4 L108.5,208 L157,276.3" stroke="#1a1a1a" stroke-width="1.5" fill="none" stroke-linejoin="round"/>
<path d="M228.5,238 L267.5,244.2 L323.4,243.9" stroke="#1a1a1a" stroke-width="1.5" fill="none" stroke-linejoin="round"/>
<path d="M399.1,230.2 L455,246.8 L494,256.8" stroke="#1a1a1a" stroke-width="1.5" fill="none" stroke-linejoin="round"/>
<path d="M570.6,189.8 L620.6,208.8 L662.3,239.1" stroke="#1a1a1a" stroke-width="1.5" fill="none" stroke-linejoin="round"/>
<path d="M53.2,122.8 L103.5,121.5 L153.8,39.5" stroke="#1f72c2" stroke-width="1.5" fill="none" stroke-linejoin="round"/>
<path d="M227.1,121.5 L274.5,123.5 L328.5,30" stroke="#1f72c2" stroke-width="1.5" fill="none" stroke-linejoin="round"/>
<path d="M399,122.3 L449.9,120.1 L497,81" stroke="#1f72c2" stroke-width="1.5" fill="none" stroke-linejoin="round"/>
<path d="M554.2,101.6 L616.7,109.6 L669.8,47.5" stroke="#1f72c2" stroke-width="1.5" fill="none" stroke-linejoin="round"/>
<path d="M57.8,258.3 L105.5,272.9 L155.8,246.5" stroke="#1f72c2" stroke-width="1.5" fill="none" stroke-linejoin="round"/>
<path d="M227.8,224.1 L271.5,242.3 L323.4,211.2" stroke="#1f72c2" stroke-width="1.5" fill="none" stroke-linejoin="round"/>
<path d="M401.1,198.1 L447.2,251.9 L497.1,262.5" stroke="#1f72c2" stroke-width="1.5" fill="none" stroke-linejoin="round"/>
<path d="M568,194.4 L611.7,232.8 L664.8,255.6" stroke="#1f72c2" stroke-width="1.5" fill="none" stroke-linejoin="round"/>
</g>
</svg>
</body></html>
